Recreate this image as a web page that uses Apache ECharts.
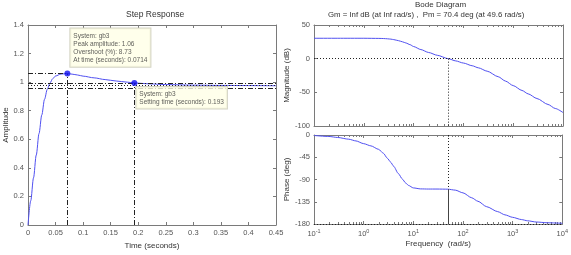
<!DOCTYPE html>
<html><head><meta charset="utf-8">
<script src="https://cdn.jsdelivr.net/npm/echarts@6/dist/echarts.min.js"></script>
<style>html,body{margin:0;padding:0;background:#fff}#c{width:571px;height:255px}</style>
</head><body><div id="c"></div>
<script>
// ---- Step response data ----
const stepTime = [0, 0.005, 0.01, 0.015, 0.02, 0.025, 0.03, 0.035, 0.04, 0.045, 0.05, 0.06, 0.0714, 0.08, 0.09, 0.1, 0.12, 0.14, 0.16, 0.18, 0.193, 0.22, 0.25, 0.3, 0.35, 0.4, 0.45];
const stepAmp  = [0, 0.17, 0.33, 0.49, 0.64, 0.77, 0.88, 0.95, 0.995, 1.025, 1.043, 1.057, 1.06, 1.056, 1.05, 1.042, 1.03, 1.018, 1.008, 1.0, 0.9945, 0.988, 0.983, 0.979, 0.977, 0.976, 0.975];
const peakTime = 0.0714, peakAmp = 1.06;
const settleTime = 0.193, settleAmp = 0.9945;
const finalValue = 0.975, bandUpper = 0.9945, bandLower = 0.9555;
const peakTip = ['System: gb3', 'Peak amplitude: 1.06', 'Overshoot (%): 8.73', 'At time (seconds): 0.0714'];
const settleTip = ['System: gb3', 'Setting time (seconds): 0.193'];

// ---- Bode data ----
const magFreq = [0.1, 0.3, 1, 2, 2.5, 3, 3.5, 4, 5, 6, 7, 8.5, 10, 14, 20, 30, 49.6, 70, 100, 150, 200, 300, 500, 700, 1000, 1500, 2000, 3000, 5000, 7000, 10000];
const magDb   = [30.3, 30.3, 30.3, 30.1, 29.9, 29.5, 29.0, 28.3, 26.7, 25.0, 23.3, 20.8, 18.0, 13.5, 9.2, 5.0, 0, -3.3, -6.5, -10.5, -13.6, -18.6, -26.8, -33.3, -40, -47.2, -52.3, -59.2, -68, -74, -80];
const phaseFreq = [0.1, 0.2, 0.3, 0.5, 0.7, 1, 1.4, 2, 2.5, 3, 3.5, 4, 5, 6, 7, 8, 10, 14, 20, 30, 49.6, 70, 100, 150, 200, 300, 500, 700, 1000, 1500, 2000, 3000, 5000, 10000];
const phaseDeg  = [-1, -3, -5, -8.5, -12, -17.5, -22, -29, -37, -47, -55, -63, -78, -89, -97, -102, -107, -109, -109.3, -109.3, -109.6, -111.5, -117, -127, -134, -145, -155, -161.5, -166.5, -171, -173.5, -176, -177.5, -178.5];
const crossFreq = 49.6, phaseAtCross = -109.6;
const freqMinor = [];
for (let k = -1; k < 4; k++) for (let m = 2; m <= 9; m++) freqMinor.push(+(m * Math.pow(10, k)).toPrecision(3));

const AX = '#7a7a7a', TXT = '#555', TTL = '#333', CURVE = '#5050f0';
const DASHDOT = [5, 2, 1, 2], DOT = [1, 2];
const FONT = 'Liberation Sans, Arial, sans-serif';

function axisBase(extra) {
  return Object.assign({
    axisLine: { show: true, onZero: false, lineStyle: { color: AX, width: 1 } },
    axisTick: { show: true, inside: true, length: 3, lineStyle: { color: AX } },
    splitLine: { show: false },
    axisLabel: { color: TXT, fontSize: 7.5, fontFamily: FONT },
    nameTextStyle: { color: TTL, fontSize: 8, fontFamily: FONT }
  }, extra);
}
const expLabel = v => '10{e|' + Math.round(Math.log10(v)) + '}';
const pair = (a, b) => a.map((v, i) => [v, b[i]]);
function ml(p1, p2, type, color) {
  return [{ coord: p1, lineStyle: { type: type, color: color || '#222', width: 1 } }, { coord: p2 }];
}
function minorTicks(params, api) {
  const cs = params.coordSys;
  const x = Math.round(api.coord([api.value(0), api.value(1)])[0]) + 0.5;
  const st = { stroke: AX, lineWidth: 1 };
  return { type: 'group', children: [
    { type: 'line', shape: { x1: x, y1: cs.y + cs.height, x2: x, y2: cs.y + cs.height - 2 }, style: st },
    { type: 'line', shape: { x1: x, y1: cs.y, x2: x, y2: cs.y + 2 }, style: st }
  ]};
}
function tipLabel(lines, pos) {
  return {
    show: true, position: pos, align: 'left', verticalAlign: 'top',
    formatter: lines.join('\n'), fontSize: 6.5, fontFamily: FONT, color: '#333', lineHeight: 8.3,
    backgroundColor: '#ffffe6', borderColor: '#c8c8b4', borderWidth: 1, padding: [3, 3, 2, 3]
  };
}

const chart = echarts.init(document.getElementById('c'), null, { renderer: 'canvas' });
chart.setOption({
  animation: false,
  backgroundColor: '#fff',
  grid: [
    { left: 28, top: 25, width: 248, height: 200 },
    { left: 314, top: 25, width: 249, height: 101 },
    { left: 314, top: 135, width: 249, height: 89 }
  ],
  graphic: [
    { type: 'text', left: 126, top: 10, style: { text: 'Step Response', fontSize: 8.5, fontFamily: FONT, fill: TTL } },
    { type: 'text', left: 415, top: 1, style: { text: 'Bode Diagram', fontSize: 8, fontFamily: FONT, fill: TTL } },
    { type: 'text', left: 328, top: 11, style: { text: 'Gm = Inf dB (at Inf rad/s) ,  Pm = 70.4 deg (at 49.6 rad/s)', fontSize: 7.8, fontFamily: FONT, fill: TTL } }
  ],
  xAxis: [
    axisBase({ gridIndex: 0, type: 'value', min: 0, max: 0.45, interval: 0.05, name: 'Time (seconds)', nameLocation: 'middle', nameGap: 17, axisLabel: { color: TXT, fontSize: 7.5, fontFamily: FONT, margin: 4 } }),
    axisBase({ gridIndex: 0, type: 'value', min: 0, max: 0.45, interval: 0.05, position: 'top', axisLabel: { show: false } }),
    axisBase({ gridIndex: 1, type: 'log', logBase: 10, min: 0.1, max: 10000, splitNumber: 5, axisLabel: { show: false } }),
    axisBase({ gridIndex: 1, type: 'log', logBase: 10, min: 0.1, max: 10000, splitNumber: 5, position: 'top', axisLabel: { show: false } }),
    axisBase({ gridIndex: 2, type: 'log', logBase: 10, min: 0.1, max: 10000, splitNumber: 5, name: 'Frequency  (rad/s)', nameLocation: 'middle', nameGap: 16,
      axisLabel: { color: TXT, fontSize: 7.5, fontFamily: FONT, margin: 4, formatter: expLabel, rich: { e: { fontSize: 5.5, color: TXT, fontFamily: FONT, padding: [0, 0, 6, 0] } } } }),
    axisBase({ gridIndex: 2, type: 'log', logBase: 10, min: 0.1, max: 10000, splitNumber: 5, position: 'top', axisLabel: { show: false } })
  ],
  yAxis: [
    axisBase({ gridIndex: 0, type: 'value', min: 0, max: 1.4, interval: 0.2, name: 'Amplitude', nameLocation: 'middle', nameGap: 15, axisLabel: { color: TXT, fontSize: 7.5, fontFamily: FONT, margin: 4 } }),
    axisBase({ gridIndex: 0, type: 'value', min: 0, max: 1.4, interval: 0.2, position: 'right', axisLabel: { show: false } }),
    axisBase({ gridIndex: 1, type: 'value', min: -100, max: 50, interval: 50, name: 'Magnitude (dB)', nameLocation: 'middle', nameGap: 14, axisLabel: { color: TXT, fontSize: 7.5, fontFamily: FONT, margin: 4 } }),
    axisBase({ gridIndex: 1, type: 'value', min: -100, max: 50, interval: 50, position: 'right', axisLabel: { show: false } }),
    axisBase({ gridIndex: 2, type: 'value', min: -180, max: 0, interval: 45, name: 'Phase (deg)', nameLocation: 'middle', nameGap: 14, axisLabel: { color: TXT, fontSize: 7.5, fontFamily: FONT, margin: 4 } }),
    axisBase({ gridIndex: 2, type: 'value', min: -180, max: 0, interval: 45, position: 'right', axisLabel: { show: false } })
  ],
  series: [
    { type: 'line', xAxisIndex: 0, yAxisIndex: 0, data: pair(stepTime, stepAmp), showSymbol: false, smooth: 0.3, smoothMonotone: 'x',
      lineStyle: { color: CURVE, width: 1 }, z: 3,
      markLine: { silent: true, symbol: 'none', label: { show: false }, animation: false, data: [
        ml([0, peakAmp], [peakTime, peakAmp], DASHDOT),
        ml([peakTime, 0], [peakTime, peakAmp], DASHDOT),
        ml([settleTime, 0], [settleTime, settleAmp], DASHDOT),
        ml([0, bandUpper], [0.45, bandUpper], DASHDOT),
        ml([0, finalValue], [0.45, finalValue], DOT),
        ml([0, bandLower], [0.45, bandLower], DASHDOT)
      ] } },
    { type: 'scatter', xAxisIndex: 0, yAxisIndex: 0, symbolSize: 6, itemStyle: { color: '#1010f0' }, z: 5,
      data: [
        { value: [peakTime, peakAmp], label: tipLabel(peakTip, [6, -42]) },
        { value: [settleTime, settleAmp], label: tipLabel(settleTip, [5, 7]) }
      ] },
    { type: 'line', xAxisIndex: 2, yAxisIndex: 2, data: pair(magFreq, magDb), showSymbol: false, smooth: 0.25, smoothMonotone: 'x',
      lineStyle: { color: CURVE, width: 1 }, z: 3,
      markLine: { silent: true, symbol: 'none', label: { show: false }, animation: false, data: [
        ml([0.1, 0], [10000, 0], DOT),
        ml([crossFreq, 0], [crossFreq, -100], DOT)
      ] } },
    { type: 'line', xAxisIndex: 4, yAxisIndex: 4, data: pair(phaseFreq, phaseDeg), showSymbol: false, smooth: 0.25, smoothMonotone: 'x',
      lineStyle: { color: CURVE, width: 1 }, z: 3,
      markLine: { silent: true, symbol: 'none', label: { show: false }, animation: false, data: [
        ml([0.1, -180], [10000, -180], DOT),
        ml([crossFreq, 0], [crossFreq, phaseAtCross], DOT),
        ml([crossFreq, phaseAtCross], [crossFreq, -180], 'solid', '#444')
      ] } },
    { type: 'custom', xAxisIndex: 2, yAxisIndex: 2, silent: true, renderItem: minorTicks, data: freqMinor.map(v => [v, -50]) },
    { type: 'custom', xAxisIndex: 4, yAxisIndex: 4, silent: true, renderItem: minorTicks, data: freqMinor.map(v => [v, -90]) }
  ]
});
</script>
</body></html>
